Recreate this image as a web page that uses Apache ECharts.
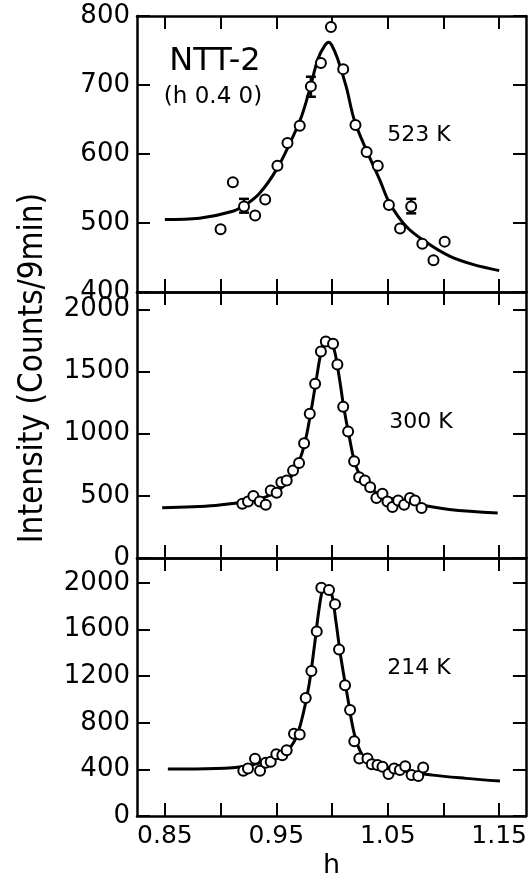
<!DOCTYPE html>
<html>
<head>
<meta charset="utf-8">
<script src="https://cdn.jsdelivr.net/npm/echarts@6/dist/echarts.min.js"></script>
<style>html,body{margin:0;padding:0;background:#fff}#c{width:530px;height:880px}</style>
</head>
<body>
<div id="c"></div>
<script>
// ---- data ----
var xTicks = [0.85, 0.90, 0.95, 1.00, 1.05, 1.10, 1.15];
var xTickLabels = [0.85, 0.95, 1.05, 1.15];

var yTicks523 = [400, 500, 600, 700, 800];
var yTicks300 = [0, 500, 1000, 1500, 2000];
var yTicks214 = [0, 400, 800, 1200, 1600, 2000];

var obs523X = [0.900,0.911,0.921,0.931,0.940,0.951,0.960,0.971,0.981,0.990,0.999,1.010,1.021,1.031,1.041,1.051,1.061,1.071,1.081,1.091,1.101];
var obs523Y = [491,559,524,511,534,583,616,641,698,732,784,723,642,603,583,526,492,524,470,446,473];
var err523X = [0.921, 0.981, 1.071];
var err523Lo = [515, 683, 514];
var err523Hi = [535, 712, 535];
var fit523X = [0.850,0.881,0.911,0.923,0.935,0.950,0.962,0.9725,0.980,0.9874,0.9934,0.997,1.000,1.005,1.0128,1.020,1.0307,1.0427,1.0516,1.0666,1.0845,1.1054,1.1263,1.150];
var fit523Y = [505,507,517,527,543,577,615,654,694,738,757,762,757,738,697,649,606,563,529,495,472,452,440,431];

var obs300X = [0.9195,0.9246,0.9294,0.9351,0.9405,0.945,0.9503,0.9545,0.9593,0.965,0.9704,0.9749,0.980,0.9848,0.990,0.9944,1.0009,1.0048,1.010,1.0144,1.0198,1.0243,1.0294,1.0342,1.0398,1.0452,1.0497,1.0542,1.0593,1.0647,1.0699,1.0743,1.0803];
var obs300Y = [436,455,498,455,428,543,524,610,623,703,764,924,1161,1401,1662,1742,1724,1556,1217,1017,778,650,623,570,482,516,455,410,463,428,482,463,402];
var fit300X = [0.8476,0.8955,0.9195,0.940,0.9554,0.9674,0.9749,0.9809,0.9854,0.990,0.9938,0.9974,1.0019,1.0063,1.0108,1.0153,1.0213,1.0303,1.0452,1.0752,1.1052,1.1486];
var fit300Y = [404,423,450,490,570,716,902,1170,1410,1650,1750,1750,1676,1462,1196,982,742,596,502,436,390,362];

var obs214X = [0.9204,0.9246,0.9309,0.9354,0.9405,0.945,0.950,0.9554,0.9593,0.9659,0.971,0.9764,0.9815,0.9863,0.9904,0.9973,1.0027,1.0063,1.0117,1.0162,1.020,1.0245,1.0318,1.0357,1.0408,1.0453,1.0507,1.0558,1.0609,1.0657,1.0714,1.0774,1.0818];
var obs214Y = [389,408,491,389,457,466,530,522,564,706,700,1013,1245,1585,1960,1940,1819,1430,1123,911,641,494,494,445,437,423,360,408,394,428,351,343,417];
var fit214X = [0.8527,0.8955,0.9224,0.9434,0.9584,0.9674,0.9741,0.9795,0.984,0.9885,0.9921,0.996,0.9999,1.0035,1.008,1.014,1.020,1.0274,1.0393,1.0605,1.0901,1.1202,1.1507];
var fit214Y = [403,408,428,479,551,664,877,1132,1444,1785,1955,1968,1898,1671,1359,1019,706,522,451,394,351,323,300];

function zip(a, b) { return a.map(function (v, i) { return [v, b[i]]; }); }

var FONT = 'DejaVu Sans';
var lineStyle = { color: '#000', width: 2.5 };
var tickStyle = { color: '#000', width: 2 };

var panels = [
  { top: 16, height: 276, min: 400, max: 800, ticks: yTicks523, obs: zip(obs523X, obs523Y), fit: zip(fit523X, fit523Y) },
  { top: 292, height: 266, min: 0, max: 2140, ticks: yTicks300, obs: zip(obs300X, obs300Y), fit: zip(fit300X, fit300Y) },
  { top: 558, height: 260, min: 0, max: 2215, ticks: yTicks214, obs: zip(obs214X, obs214Y), fit: zip(fit214X, fit214Y) }
];

var grids = [], xAxes = [], yAxes = [], series = [];
panels.forEach(function (p, i) {
  grids.push({ left: 137, width: 389, top: p.top, height: p.height, containLabel: false });
  [ 'bottom', 'top' ].forEach(function (pos) {
    var showLab = (pos === 'bottom' && i === 2);
    xAxes.push({
      type: 'value', gridIndex: i, position: pos, min: 0.825, max: 1.174,
      axisLine: { show: true, onZero: false, lineStyle: lineStyle },
      axisTick: { show: true, inside: true, length: 13, lineStyle: tickStyle, customValues: xTicks },
      axisLabel: { show: showLab, customValues: xTickLabels, color: '#000', fontFamily: FONT, fontSize: 25, margin: 8,
                   formatter: function (v) { return v.toFixed(2); } },
      splitLine: { show: false },
      name: showLab ? 'h' : '', nameLocation: 'middle', nameGap: 36,
      nameTextStyle: { color: '#000', fontFamily: FONT, fontSize: 27 }
    });
  });
  [ 'left', 'right' ].forEach(function (pos) {
    yAxes.push({
      type: 'value', gridIndex: i, position: pos, min: p.min, max: p.max,
      axisLine: { show: true, onZero: false, lineStyle: lineStyle },
      axisTick: { show: true, inside: true, length: 13, lineStyle: tickStyle, customValues: p.ticks },
      axisLabel: { show: pos === 'left', customValues: p.ticks, color: '#000', fontFamily: FONT, fontSize: 26, margin: 7,
                   formatter: function (v) { return String(Math.round(v)); } },
      splitLine: { show: false }
    });
  });
  series.push({
    type: 'line', xAxisIndex: i * 2, yAxisIndex: i * 2, data: p.fit, smooth: 0.35,
    symbol: 'none', lineStyle: { color: '#000', width: 3 }, z: 2, silent: true
  });
  series.push({
    type: 'scatter', xAxisIndex: i * 2, yAxisIndex: i * 2, data: p.obs, symbol: 'circle', symbolSize: 10,
    itemStyle: { color: '#fff', borderColor: '#000', borderWidth: 2, opacity: 1 }, z: 4, silent: true
  });
});

series.push({
  type: 'custom', xAxisIndex: 0, yAxisIndex: 0, z: 3, silent: true,
  data: err523X.map(function (x, i) { return [x, err523Lo[i], err523Hi[i]]; }),
  renderItem: function (params, api) {
    var lo = api.coord([api.value(0), api.value(1)]);
    var hi = api.coord([api.value(0), api.value(2)]);
    var w = 5;
    var st = { stroke: '#000', lineWidth: 2.5 };
    return { type: 'group', children: [
      { type: 'line', shape: { x1: lo[0], y1: lo[1], x2: hi[0], y2: hi[1] }, style: st },
      { type: 'line', shape: { x1: lo[0] - w, y1: lo[1], x2: lo[0] + w, y2: lo[1] }, style: st },
      { type: 'line', shape: { x1: hi[0] - w, y1: hi[1], x2: hi[0] + w, y2: hi[1] }, style: st }
    ] };
  }
});

var chart = echarts.init(document.getElementById('c'), null, { renderer: 'canvas' });
chart.setOption({
  backgroundColor: '#fff',
  animation: false,
  grid: grids, xAxis: xAxes, yAxis: yAxes, series: series,
  graphic: [
    { type: 'text', x: 215, y: 62, style: { text: 'NTT-2', fontFamily: FONT, fontSize: 32, fill: '#000', textAlign: 'center', textVerticalAlign: 'middle' } },
    { type: 'text', x: 213, y: 97, style: { text: '(h 0.4 0)', fontFamily: FONT, fontSize: 23, fill: '#000', textAlign: 'center', textVerticalAlign: 'middle' } },
    { type: 'text', x: 419, y: 135, style: { text: '523 K', fontFamily: FONT, fontSize: 22, fill: '#000', textAlign: 'center', textVerticalAlign: 'middle' } },
    { type: 'text', x: 421, y: 422, style: { text: '300 K', fontFamily: FONT, fontSize: 22, fill: '#000', textAlign: 'center', textVerticalAlign: 'middle' } },
    { type: 'text', x: 419, y: 668, style: { text: '214 K', fontFamily: FONT, fontSize: 22, fill: '#000', textAlign: 'center', textVerticalAlign: 'middle' } },
    { type: 'text', x: 33, y: 368, rotation: Math.PI / 2, style: { text: 'Intensity (Counts/9min)', fontFamily: "'DejaVu Sans Condensed', 'Liberation Sans', sans-serif", fontSize: 33, fill: '#000', textAlign: 'center', textVerticalAlign: 'middle' } }
  ]
});
</script>
</body>
</html>
